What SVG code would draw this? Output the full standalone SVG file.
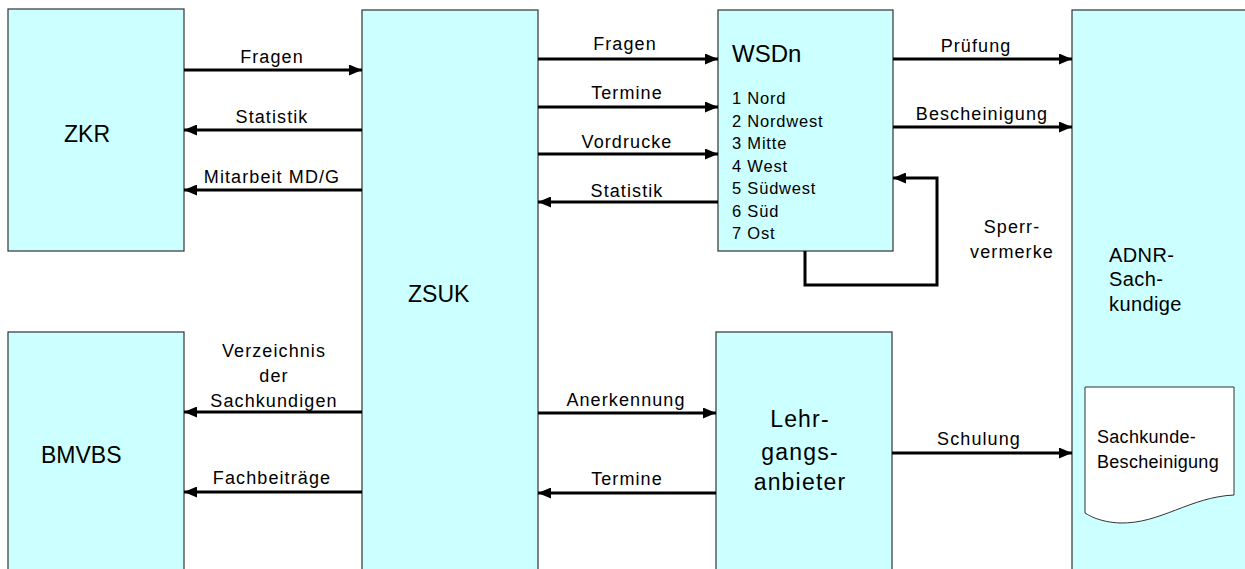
<svg xmlns="http://www.w3.org/2000/svg" width="1245" height="569" viewBox="0 0 1245 569">
<style>
.box{fill:#CCFFFF;stroke:#333;stroke-width:1.2}
.doc{fill:#fff;stroke:#333;stroke-width:1}
.t{font-family:"Liberation Sans",Arial,sans-serif;fill:#000}
.lbl{font-size:18px;letter-spacing:1.1px;text-anchor:middle}
.big{font-size:23px}
.mid{font-size:20px;letter-spacing:0.4px}
.lst{font-size:16.5px;letter-spacing:0.8px}
.c{fill:none;stroke:#000;stroke-width:3}
</style>
<defs>
<marker id="ah" markerUnits="userSpaceOnUse" markerWidth="13" markerHeight="11" refX="13" refY="5.5" orient="auto">
<path d="M0,0 L13,5.5 L0,11 z" fill="#000"/>
</marker>
</defs>
<rect width="1245" height="569" fill="#fff"/>
<g id="zkr"><rect class="box" x="8" y="9" width="176" height="242"/><text class="t big" x="64" y="142">ZKR</text></g>
<g id="zsuk"><rect class="box" x="362" y="10" width="176" height="570"/><text class="t big" x="408" y="302">ZSUK</text></g>
<g id="wsdn"><rect class="box" x="718" y="10" width="175" height="241"/>
<text class="t" x="732" y="62" style="font-size:24px">WSDn</text>
<text class="t lst" x="732" y="104">1 Nord</text>
<text class="t lst" x="732" y="127">2 Nordwest</text>
<text class="t lst" x="732" y="149">3 Mitte</text>
<text class="t lst" x="732" y="172">4 West</text>
<text class="t lst" x="732" y="194">5 Südwest</text>
<text class="t lst" x="732" y="217">6 Süd</text>
<text class="t lst" x="732" y="239">7 Ost</text>
</g>
<g id="adnr"><rect class="box" x="1072" y="10" width="180" height="570"/>
<text class="t mid" x="1109" y="262">ADNR-</text>
<text class="t mid" x="1109" y="286">Sach-</text>
<text class="t mid" x="1109" y="311">kundige</text>
</g>
<g id="doc"><path class="doc" d="M1085,387 L1234,387 L1234,495 C1190,497 1160,524 1120,523 C1100,522 1090,516 1085,513 Z"/>
<text class="t" x="1097" y="443" style="font-size:18px;letter-spacing:0.3px">Sachkunde-</text>
<text class="t" x="1097" y="468" style="font-size:18px;letter-spacing:0.3px">Bescheinigung</text>
</g>
<g id="bmvbs"><rect class="box" x="8" y="332" width="176" height="250"/><text class="t big" x="41" y="463">BMVBS</text></g>
<g id="lehr"><rect class="box" x="716" y="332" width="176" height="250"/>
<text class="t big" x="800" y="427" text-anchor="middle" style="letter-spacing:1.2px">Lehr-</text>
<text class="t big" x="800" y="460" text-anchor="middle" style="letter-spacing:1.2px">gangs-</text>
<text class="t big" x="800" y="490" text-anchor="middle" style="letter-spacing:1.2px">anbieter</text>
</g>
<g id="connectors">
<line class="c" x1="184" y1="70" x2="362" y2="70" marker-end="url(#ah)"/>
<line class="c" x1="362" y1="130" x2="184" y2="130" marker-end="url(#ah)"/>
<line class="c" x1="362" y1="190" x2="184" y2="190" marker-end="url(#ah)"/>
<line class="c" x1="538" y1="59" x2="718" y2="59" marker-end="url(#ah)"/>
<line class="c" x1="538" y1="107" x2="718" y2="107" marker-end="url(#ah)"/>
<line class="c" x1="538" y1="154" x2="718" y2="154" marker-end="url(#ah)"/>
<line class="c" x1="718" y1="202" x2="538" y2="202" marker-end="url(#ah)"/>
<line class="c" x1="893" y1="59" x2="1072" y2="59" marker-end="url(#ah)"/>
<line class="c" x1="893" y1="127" x2="1072" y2="127" marker-end="url(#ah)"/>
<polyline class="c" points="805,251 805,285 937,285 937,178 893,178" marker-end="url(#ah)"/>
<line class="c" x1="362" y1="412" x2="184" y2="412" marker-end="url(#ah)"/>
<line class="c" x1="362" y1="492" x2="184" y2="492" marker-end="url(#ah)"/>
<line class="c" x1="538" y1="413" x2="716" y2="413" marker-end="url(#ah)"/>
<line class="c" x1="716" y1="493" x2="538" y2="493" marker-end="url(#ah)"/>
<line class="c" x1="892" y1="453" x2="1072" y2="453" marker-end="url(#ah)"/>
<text class="t lbl" x="272" y="63">Fragen</text>
<text class="t lbl" x="272" y="123">Statistik</text>
<text class="t lbl" x="272" y="183">Mitarbeit MD/G</text>
<text class="t lbl" x="625" y="50">Fragen</text>
<text class="t lbl" x="627" y="99">Termine</text>
<text class="t lbl" x="627" y="148">Vordrucke</text>
<text class="t lbl" x="627" y="197">Statistik</text>
<text class="t lbl" x="976" y="52">Prüfung</text>
<text class="t lbl" x="982" y="120">Bescheinigung</text>
<text class="t lbl" x="1012" y="233">Sperr-</text>
<text class="t lbl" x="1012" y="258">vermerke</text>
<text class="t lbl" x="274" y="357">Verzeichnis</text>
<text class="t lbl" x="274" y="382">der</text>
<text class="t lbl" x="274" y="407">Sachkundigen</text>
<text class="t lbl" x="272" y="484">Fachbeiträge</text>
<text class="t lbl" x="626" y="406">Anerkennung</text>
<text class="t lbl" x="627" y="485">Termine</text>
<text class="t lbl" x="979" y="445">Schulung</text>
</g>
</svg>
